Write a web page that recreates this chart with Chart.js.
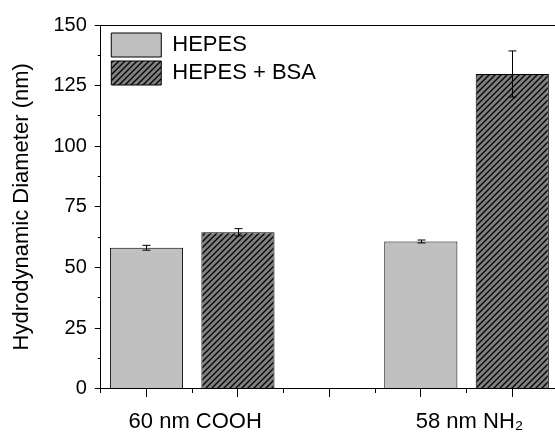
<!DOCTYPE html>
<html>
<head>
<meta charset="utf-8">
<script src="https://cdn.jsdelivr.net/npm/chart.js@4"></script>
<style>
  html, body { margin: 0; padding: 0; background: #fff; }
  #wrap { width: 555px; height: 439px; overflow: hidden; }
</style>
</head>
<body>
<div id="wrap"><canvas id="dlsChart" width="560" height="439"></canvas></div>
<script>
// particle groups on the x axis
const groups = ["60 nm COOH", "58 nm NH\u2082"];
// hydrodynamic diameter (nm) and error
const hepes = [58.1, 60.7];
const hepesErr = [1.0, 0.6];
const hepesBsa = [64.5, 129.8];
const hepesBsaErr = [1.5, 9.5];
const yMin = 0, yMax = 150, yStep = 25;

const font = "'Liberation Sans', Arial, sans-serif";

// x axis runs 0.5 .. 5.5 in half steps (11 slots), bars sit on 1,2 and 4,5
const slots = 11;
const labels = new Array(slots).fill("");
const hepesSlots = new Array(slots).fill(null);
const hepesErrSlots = new Array(slots).fill(null);
const bsaSlots = new Array(slots).fill(null);
const bsaErrSlots = new Array(slots).fill(null);
groups.forEach((g, k) => {
  labels[2 + 6 * k] = g;
  hepesSlots[1 + 6 * k] = hepes[k];
  hepesErrSlots[1 + 6 * k] = hepesErr[k];
  bsaSlots[3 + 6 * k] = hepesBsa[k];
  bsaErrSlots[3 + 6 * k] = hepesBsaErr[k];
});

const canvas = document.getElementById("dlsChart");
const ctx = canvas.getContext("2d");

function hatch() {
  const c = document.createElement("canvas");
  c.width = 6; c.height = 6;
  const g = c.getContext("2d");
  g.fillStyle = "#808080";
  g.fillRect(0, 0, 6, 6);
  g.strokeStyle = "#000";
  g.lineWidth = 1.3;
  g.beginPath();
  g.moveTo(0, 6); g.lineTo(6, 0);
  g.moveTo(-1, 1); g.lineTo(1, -1);
  g.moveTo(5, 7); g.lineTo(7, 5);
  g.stroke();
  return ctx.createPattern(c, "repeat");
}

const errorBars = {
  id: "errorBars",
  afterDatasetsDraw(chart) {
    const c = chart.ctx, y = chart.scales.y;
    chart.data.datasets.forEach((ds, di) => {
      const meta = chart.getDatasetMeta(di);
      meta.data.forEach((bar, i) => {
        const v = ds.data[i], e = ds.errors[i];
        if (v == null || e == null) return;
        const top = y.getPixelForValue(v + e);
        const bot = y.getPixelForValue(v - e);
        const x = Math.round(bar.x) + 0.5;
        c.save();
        c.strokeStyle = "#000";
        c.lineWidth = 1;
        c.beginPath();
        c.moveTo(x, top); c.lineTo(x, bot);
        c.moveTo(x - 4, top); c.lineTo(x + 4, top);
        c.moveTo(x - 4, bot); c.lineTo(x + 4, bot);
        c.stroke();
        c.restore();
      });
    });
  }
};

// legend sits inside the plot, top left
const legendInside = {
  id: "legendInside",
  afterLayout(chart) {
    const lg = chart.legend, a = chart.chartArea;
    if (!lg) return;
    lg.left = a.left + 6.5;
    lg.top = a.top + 4;
    lg.right = lg.left + lg.width;
    lg.bottom = lg.top + lg.height;
  }
};

const isMajorX = (i) => i % 2 === 1;

new Chart(ctx, {
  type: "bar",
  data: {
    labels: labels,
    datasets: [
      {
        label: "HEPES",
        data: hepesSlots,
        errors: hepesErrSlots,
        backgroundColor: "#c0c0c0",
        borderColor: "#000",
        borderWidth: 1,
        grouped: false,
        barPercentage: 1.6,
        categoryPercentage: 1
      },
      {
        label: "HEPES + BSA",
        data: bsaSlots,
        errors: bsaErrSlots,
        backgroundColor: hatch(),
        borderColor: "#000",
        borderWidth: 1,
        grouped: false,
        barPercentage: 1.6,
        categoryPercentage: 1
      }
    ]
  },
  options: {
    responsive: false,
    animation: false,
    devicePixelRatio: 1,
    layout: { padding: { top: 25, left: 0, right: 2, bottom: 4 } },
    scales: {
      x: {
        type: "category",
        offset: false,
        border: { color: "#000", width: 1 },
        grid: {
          offset: false,
          drawOnChartArea: false,
          tickLength: 20,
          tickColor: "#000",
          tickBorderDash: (c) => (isMajorX(c.index) ? [8, 40] : [4, 40])
        },
        ticks: {
          autoSkip: false,
          maxRotation: 0,
          minRotation: 0,
          padding: 0,
          labelOffset: 3,
          color: "#000",
          font: { family: font, size: 22 }
        }
      },
      y: {
        min: yMin,
        max: yMax,
        border: { color: "#000", width: 1 },
        grid: {
          // only the top line is drawn, it closes the frame
          color: (c) => (c.tick && c.tick.value === yMax ? "#000" : "rgba(0,0,0,0)"),
          tickLength: 14,
          tickColor: "#000",
          tickBorderDash: (c) => (c.tick && c.tick.value % yStep === 0 ? [0, 8, 6, 40] : [0, 11, 3, 40])
        },
        ticks: {
          stepSize: yStep / 2,
          padding: 0,
          color: "#000",
          font: { family: font, size: 20 },
          callback: (v) => (v % yStep === 0 ? v : "")
        },
        title: {
          display: true,
          text: "Hydrodynamic Diameter (nm)",
          color: "#000",
          font: { family: font, size: 22 },
          padding: { top: 9, bottom: 18 }
        }
      }
    },
    plugins: {
      legend: {
        position: "chartArea",
        fullSize: false,
        align: "start",
        labels: {
          boxWidth: 50,
          boxHeight: 24,
          padding: 4,
          color: "#000",
          font: { family: font, size: 22 }
        }
      },
      tooltip: { enabled: false }
    }
  },
  plugins: [errorBars, legendInside]
});
</script>
</body>
</html>
